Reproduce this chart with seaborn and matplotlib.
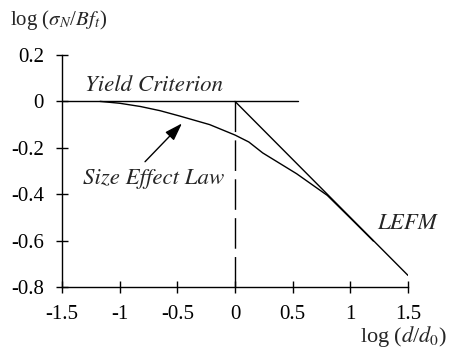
import matplotlib
matplotlib.use("Agg")
import matplotlib.pyplot as plt
import seaborn as sns
import pandas as pd

# size-effect curve, log(d/d0) vs log(sigma_N / B f_t)
curve_x = [-1.17, -1.0, -0.82, -0.65, -0.48, -0.22, 0.0, 0.12, 0.24, 0.535, 0.8, 1.0, 1.2]
curve_y = [0.0, -0.008, -0.022, -0.040, -0.063, -0.100, -0.145, -0.175, -0.222,
           -0.312, -0.405, -0.503, -0.602]

# LEFM asymptote (slope -1/2) and yield-criterion level
lefm_x = [0.0, 1.5]
lefm_y = [0.0, -0.75]
yield_x = [-1.5, 0.55]
yield_y = [0.0, 0.0]
divider_x = [0.0, 0.0]
divider_y = [0.0, -0.8]

x_ticks = [-1.5, -1, -0.5, 0, 0.5, 1, 1.5]
x_tick_labels = ["-1.5", "-1", "-0.5", "0", "0.5", "1", "1.5"]
y_ticks = [0.2, 0, -0.2, -0.4, -0.6, -0.8]
y_tick_labels = ["0.2", "0", "-0.2", "-0.4", "-0.6", "-0.8"]

sns.set_theme(style="ticks")
plt.rcParams["font.family"] = ["Liberation Serif", "DejaVu Serif"]
plt.rcParams["mathtext.fontset"] = "stix"

fig = plt.figure(figsize=(4.5, 3.54), dpi=100)
ax = fig.add_axes([62 / 450, 1 - 287 / 354, 346 / 450, 232 / 354])

lw = 1.0
sns.lineplot(data=pd.DataFrame({"x": curve_x, "y": curve_y}), x="x", y="y",
             ax=ax, color="black", lw=lw, sort=False)
sns.lineplot(data=pd.DataFrame({"x": lefm_x, "y": lefm_y}), x="x", y="y",
             ax=ax, color="black", lw=lw, sort=False)
sns.lineplot(data=pd.DataFrame({"x": yield_x, "y": yield_y}), x="x", y="y",
             ax=ax, color="black", lw=lw, sort=False)
ax.plot(divider_x, divider_y, color="black", lw=lw, dashes=(22, 6))

ax.set_xlim(-1.5, 1.5)
ax.set_ylim(-0.8, 0.2)
ax.set_xticks(x_ticks)
ax.set_xticklabels(x_tick_labels)
ax.set_yticks(y_ticks)
ax.set_yticklabels(y_tick_labels)
ax.tick_params(axis="both", direction="inout", length=9, width=1.0,
               colors="black", labelsize=15)
ax.tick_params(axis="x", pad=8.5)
ax.tick_params(axis="y", pad=8.5)
for side in ("top", "right"):
    ax.spines[side].set_visible(False)
for side in ("left", "bottom"):
    ax.spines[side].set_linewidth(1.0)
    ax.spines[side].set_color("black")
ax.set_xlabel("")
ax.set_ylabel("")

note_font = dict(family="STIXGeneral", style="italic", fontsize=16.5,
                 ha="left", va="baseline")
ax.text(-1.30, 0.043, "Yield Criterion", **note_font)
ax.text(-1.318, -0.357, "Size Effect Law", **note_font)
ax.text(1.23, -0.548, "LEFM", **note_font)
ax.annotate("", xy=(-0.46, -0.095), xytext=(-0.78, -0.26),
            arrowprops=dict(arrowstyle="-|>,head_length=0.9,head_width=0.3",
                            color="black", lw=1.0, shrinkA=0, shrinkB=0))

fig.text(10 / 450, 1 - 25 / 354, r"log ($\sigma_N$/$Bf_t$)", fontsize=15,
         ha="left", va="baseline")
fig.text(447 / 450, 1 - 342 / 354, r"log ($d$/$d_0$)", fontsize=16,
         ha="right", va="baseline")

fig.savefig("out.png", dpi=100, facecolor="white")
